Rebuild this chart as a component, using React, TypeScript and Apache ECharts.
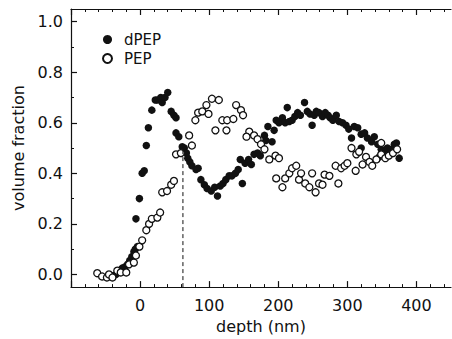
import React, { useEffect, useRef } from "react";
import * as echarts from "echarts";

const dpepDepth = [-45, -40, -35, -30, -26, -22, -18, -15, -12, -9, -7, -4, -6, -1, 3, 6, 9, 12, 17, 22, 25, 30, 32, 36, 40, 45, 49, 52, 52, 56, 61, 64, 67, 69, 72, 75, 81, 84, 88, 93, 97, 103, 108, 112, 116, 120, 124, 129, 133, 138, 142, 145, 148, 152, 157, 161, 165, 170, 174, 180, 182, 185, 191, 194, 197, 201, 206, 210, 213, 216, 220, 224, 228, 232, 238, 242, 246, 249, 252, 255, 259, 264, 268, 272, 275, 279, 284, 288, 293, 298, 302, 306, 310, 315, 320, 320, 325, 329, 335, 339, 344, 346, 349, 354, 356, 358, 362, 364, 368, 371, 375];
const dpepFraction = [-0.005, -0.005, 0.0, 0.01, 0.025, 0.03, 0.04, 0.055, 0.07, 0.09, 0.1, 0.11, 0.22, 0.3, 0.4, 0.41, 0.51, 0.58, 0.65, 0.69, 0.69, 0.7, 0.68, 0.7, 0.72, 0.645, 0.63, 0.62, 0.56, 0.545, 0.505, 0.5, 0.48, 0.46, 0.445, 0.43, 0.415, 0.42, 0.375, 0.355, 0.34, 0.33, 0.345, 0.31, 0.35, 0.36, 0.375, 0.39, 0.39, 0.4, 0.415, 0.455, 0.36, 0.44, 0.455, 0.435, 0.475, 0.48, 0.47, 0.55, 0.53, 0.585, 0.525, 0.57, 0.61, 0.6, 0.62, 0.6, 0.66, 0.605, 0.61, 0.625, 0.64, 0.63, 0.68, 0.645, 0.635, 0.59, 0.63, 0.645, 0.64, 0.625, 0.64, 0.63, 0.62, 0.61, 0.63, 0.605, 0.6, 0.59, 0.575, 0.54, 0.585, 0.58, 0.555, 0.5, 0.56, 0.54, 0.525, 0.545, 0.515, 0.465, 0.495, 0.485, 0.475, 0.5, 0.49, 0.495, 0.515, 0.52, 0.46];

const pepDepth = [-62, -55, -48, -45, -40, -33, -28, -20, -16, -9, -6, -1, 3, 9, 13, 17, 25, 29, 32, 39, 45, 49, 52, 59, 71, 75, 80, 84, 90, 96, 99, 104, 114, 109, 119, 126, 135, 125, 139, 146, 149, 158, 154, 165, 170, 175, 180, 187, 196, 201, 197, 206, 210, 216, 220, 226, 230, 233, 239, 245, 249, 254, 259, 264, 267, 274, 283, 287, 291, 296, 300, 306, 312, 313, 317, 322, 327, 332, 336, 342, 349, 349, 355, 360, 366, 372];
const pepFraction = [0.005, -0.008, -0.012, 0.0, -0.012, 0.015, 0.008, 0.008, 0.04, 0.047, 0.075, 0.11, 0.135, 0.175, 0.2, 0.22, 0.225, 0.245, 0.325, 0.33, 0.355, 0.37, 0.475, 0.48, 0.55, 0.51, 0.61, 0.64, 0.645, 0.67, 0.635, 0.695, 0.69, 0.57, 0.61, 0.61, 0.615, 0.57, 0.67, 0.65, 0.63, 0.565, 0.545, 0.55, 0.535, 0.515, 0.495, 0.455, 0.47, 0.46, 0.38, 0.345, 0.38, 0.4, 0.42, 0.43, 0.375, 0.4, 0.36, 0.345, 0.4, 0.325, 0.36, 0.355, 0.395, 0.39, 0.43, 0.36, 0.42, 0.43, 0.44, 0.5, 0.41, 0.475, 0.485, 0.435, 0.465, 0.445, 0.43, 0.455, 0.475, 0.52, 0.46, 0.47, 0.48, 0.495];

const xLabels = [0, 100, 200, 300, 400];
const xMajorTicks = [-100, 0, 100, 200, 300, 400];
const xMinorTicks = [-80, -60, -40, -20, 20, 40, 60, 80, 120, 140, 160, 180, 220, 240, 260, 280, 320, 340, 360, 380, 420, 440];
const yLabels = [0, 0.2, 0.4, 0.6, 0.8, 1.0];
const yMinorTicks = [0.1, 0.3, 0.5, 0.7, 0.9];
const dashedDepth = [62, 62];
const dashedFraction = [-0.05, 0.49];

const FONT = "DejaVu Sans";

export default function App() {
  const ref = useRef<HTMLDivElement>(null);
  useEffect(() => {
    document.body.style.margin = "0";
    const chart = echarts.init(ref.current!, null, { renderer: "svg" });
    const black = "#111";
    const baseX = {
      type: "value",
      min: -100,
      max: 450,
      gridIndex: 0,
      splitLine: { show: false },
    };
    const baseY = {
      type: "value",
      min: -0.05,
      max: 1.05,
      gridIndex: 0,
      splitLine: { show: false },
    };
    chart.setOption({
      animation: false,
      backgroundColor: "#fff",
      grid: { left: 71, right: 1, top: 9, bottom: 51 },
      legend: {
        orient: "vertical",
        left: 97,
        top: 27,
        itemWidth: 9,
        itemHeight: 9,
        itemGap: 4,
        textStyle: { fontFamily: FONT, fontSize: 15, color: black, lineHeight: 12, padding: [0, 0, 0, 7] },
        data: ["dPEP", "PEP"],
      },
      xAxis: [
        {
          ...baseX,
          position: "bottom",
          axisLine: { show: true, onZero: false, lineStyle: { color: black, width: 1.2 } },
          axisTick: { show: true, inside: true, length: 6, customValues: xMajorTicks, lineStyle: { color: black, width: 1.2 } },
          axisLabel: { show: true, customValues: xLabels, fontFamily: FONT, fontSize: 16, color: black, margin: 10 },
          name: "depth (nm)",
          nameLocation: "middle",
          nameGap: 30,
          nameTextStyle: { fontFamily: FONT, fontSize: 16, color: black },
        },
        {
          ...baseX,
          position: "bottom",
          axisLine: { show: false, onZero: false },
          axisTick: { show: true, inside: true, length: 3, customValues: xMinorTicks, lineStyle: { color: black, width: 1 } },
          axisLabel: { show: false },
        },
        {
          ...baseX,
          position: "top",
          axisLine: { show: true, onZero: false, lineStyle: { color: black, width: 1.2 } },
          axisTick: { show: true, inside: true, length: 6, customValues: xMajorTicks, lineStyle: { color: black, width: 1.2 } },
          axisLabel: { show: false },
        },
        {
          ...baseX,
          position: "top",
          axisLine: { show: false, onZero: false },
          axisTick: { show: true, inside: true, length: 3, customValues: xMinorTicks, lineStyle: { color: black, width: 1 } },
          axisLabel: { show: false },
        },
      ],
      yAxis: [
        {
          ...baseY,
          position: "left",
          axisLine: { show: true, onZero: false, lineStyle: { color: black, width: 1.2 } },
          axisTick: { show: true, inside: true, length: 6, customValues: yLabels, lineStyle: { color: black, width: 1.2 } },
          axisLabel: {
            show: true,
            customValues: yLabels,
            formatter: (v: number) => v.toFixed(1),
            fontFamily: FONT,
            fontSize: 16,
            color: black,
            margin: 8,
          },
          name: "volume fraction",
          nameLocation: "middle",
          nameGap: 34,
          nameTextStyle: { fontFamily: FONT, fontSize: 16, color: black },
        },
        {
          ...baseY,
          position: "left",
          axisLine: { show: false, onZero: false },
          axisTick: { show: true, inside: true, length: 3, customValues: yMinorTicks, lineStyle: { color: black, width: 1 } },
          axisLabel: { show: false },
        },
      ],
      series: [
        {
          name: "dashed",
          type: "line",
          xAxisIndex: 0,
          yAxisIndex: 0,
          data: dashedDepth.map((d, i) => [d, dashedFraction[i]]),
          symbol: "none",
          lineStyle: { color: black, width: 1, type: [4, 3] },
          silent: true,
        },
        {
          name: "dPEP",
          type: "scatter",
          xAxisIndex: 0,
          yAxisIndex: 0,
          symbol: "circle",
          symbolSize: 7.5,
          itemStyle: { color: black, borderColor: black, borderWidth: 0, opacity: 1 },
          data: dpepDepth.map((d, i) => [d, dpepFraction[i]]),
        },
        {
          name: "PEP",
          type: "scatter",
          xAxisIndex: 0,
          yAxisIndex: 0,
          symbol: "circle",
          symbolSize: 7,
          itemStyle: { color: "#fff", borderColor: black, borderWidth: 1.3, opacity: 1 },
          data: pepDepth.map((d, i) => [d, pepFraction[i]]),
        },
      ],
    });
    return () => chart.dispose();
  }, []);
  return <div ref={ref} style={{ width: 452, height: 339 }} />;
}
